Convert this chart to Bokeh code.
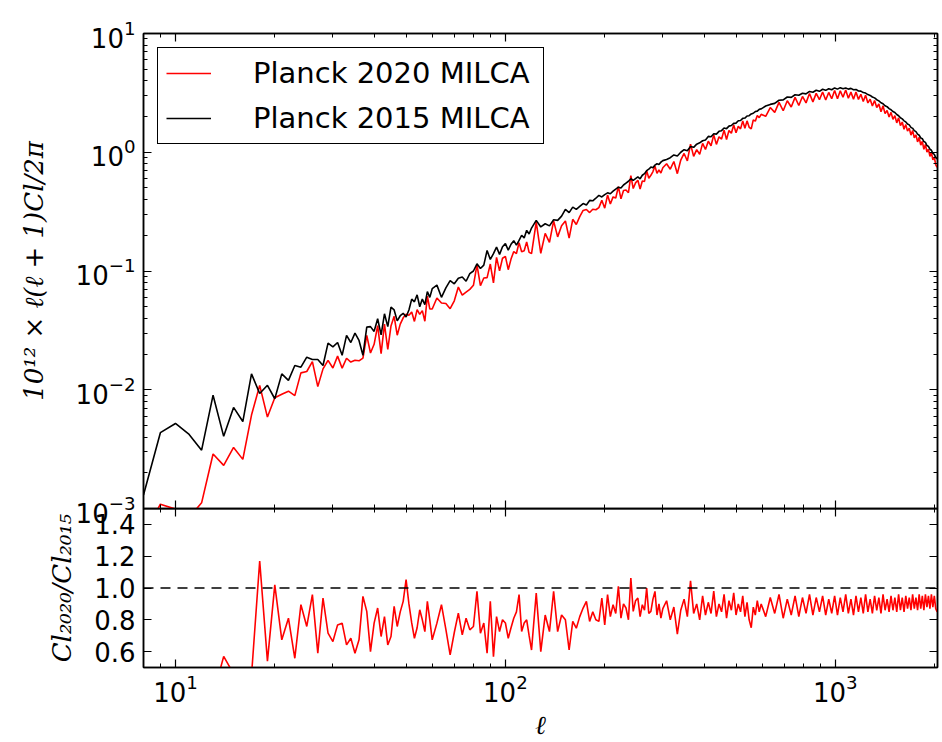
from bokeh.plotting import figure
from bokeh.models import (LogAxis, LinearAxis, FixedTicker, LogTickFormatter,
                          NumeralTickFormatter, CustomJSTickFormatter, Range1d, Span,
                          Legend, LegendItem, ColumnDataSource)
from bokeh.layouts import column
from bokeh.embed import file_html
from bokeh.resources import INLINE

# ---------------- data ----------------
# multipole grid: every l up to 60, coarser above
ell = (list(range(8, 61)) + list(range(62, 121, 2)) + list(range(124, 301, 4))
       + list(range(308, 597, 8)) + list(range(615, 2036, 20)))

# Planck 2015 MILCA, 1e12 * l(l+1)Cl/2pi
cl2015 = [
    1.3e-3, 4.35e-3, 5.2e-3, 4.2e-3, 3.1e-3, 9.0e-3, 4.05e-3, 7.1e-3, 5.4e-3, 1.36e-2,
    9.3e-3, 1.09e-2, 8.4e-3, 1.36e-2, 1.2e-2, 1.6e-2, 1.55e-2, 1.88e-2, 1.8e-2, 1.8e-2,
    1.6e-2, 2.47e-2, 2.3e-2, 2.5e-2, 1.95e-2, 2.87e-2, 2.5e-2, 3.0e-2, 2.6e-2, 1.95e-2,
    3.37e-2, 3.4e-2, 3.1e-2, 3.96e-2, 2.9e-2, 4.36e-2, 3.4e-2, 4.96e-2, 4.7e-2, 3.8e-2,
    4.2e-2, 4.4e-2, 4.1e-2, 4.7e-2, 5.8e-2, 5.5e-2, 6.3e-2, 5.0e-2, 5.8e-2, 5.2e-2,
    6.7e-2, 6.0e-2, 7.1e-2,
    0.076, 0.06, 0.072, 0.083, 0.078, 0.087, 0.089, 0.082, 0.095, 0.1,
    0.115, 0.105, 0.112, 0.149, 0.125, 0.14, 0.159, 0.138, 0.16, 0.17,
    0.15, 0.168, 0.18, 0.165, 0.181, 0.2, 0.19, 0.22, 0.205, 0.23,
    0.267, 0.235, 0.25, 0.24, 0.27, 0.267, 0.29, 0.33, 0.31, 0.345,
    0.33, 0.35, 0.37, 0.36, 0.393, 0.39, 0.41, 0.433, 0.42, 0.44,
    0.455, 0.447, 0.47, 0.49, 0.508, 0.5, 0.53, 0.55, 0.57, 0.598,
    0.58, 0.6, 0.62, 0.598, 0.64, 0.66, 0.7, 0.72, 0.75, 0.74,
    0.78, 0.8, 0.79, 0.826, 0.85,
    0.87, 0.9, 0.95, 0.93, 1.0, 1.05, 1.03, 1.12, 1.1, 1.17,
    1.2, 1.25, 1.27, 1.36, 1.35, 1.43, 1.42, 1.5, 1.52, 1.6,
    1.58, 1.66, 1.68, 1.75, 1.76, 1.84, 1.85, 1.93, 1.94, 2.02,
    2.03, 2.1, 2.13, 2.2, 2.22, 2.3, 2.32,
    2.45, 2.53, 2.58, 2.74, 2.76, 2.92, 2.9, 3.05, 3.02, 3.14,
    3.1, 3.25, 3.2, 3.33, 3.26, 3.39, 3.32, 3.43, 3.36, 3.48,
    3.4, 3.5, 3.42, 3.48, 3.4, 3.45, 3.36, 3.38, 3.28, 3.27,
    3.18, 3.15, 3.06, 3.01, 2.92, 2.87, 2.77, 2.71, 2.61, 2.56,
    2.46, 2.42, 2.33, 2.28, 2.2, 2.16, 2.08, 2.03, 1.95, 1.91,
    1.84, 1.8, 1.73, 1.7, 1.62, 1.59, 1.52, 1.49, 1.42, 1.39,
    1.32, 1.3, 1.23, 1.21, 1.14, 1.12, 1.06, 1.04, 0.98, 0.96,
    0.9, 0.88,
]

# Cl_2020 / Cl_2015
ratio = [
    0.45, 0.25, 0.19, 0.2, 0.36, 0.32, 0.57, 0.46, 0.48, 0.45,
    1.17, 0.54, 1.02, 0.674, 0.81, 0.558, 0.895, 0.758, 0.958, 0.59,
    0.937, 0.716, 0.663, 0.768, 0.779, 0.642, 0.684, 0.59, 0.674, 0.947,
    0.853, 0.6, 0.779, 0.874, 0.695, 0.82, 0.642, 0.695, 0.884, 0.758,
    0.85, 0.916, 1.053, 0.9, 0.78, 0.684, 0.75, 0.863, 0.8, 0.726,
    0.916, 0.8, 0.674,
    0.779, 0.895, 0.74, 0.58, 0.72, 0.842, 0.705, 0.81, 0.737, 0.758,
    0.979, 0.716, 0.78, 0.59, 0.916, 0.568, 0.82, 0.726, 0.8, 0.78,
    0.684, 0.75, 0.81, 0.85, 0.958, 0.726, 0.78, 0.8, 0.7, 0.61,
    0.968, 0.6, 0.83, 0.726, 0.979, 0.726, 0.83, 0.8, 0.61, 0.79,
    0.747, 0.82, 0.874, 0.916, 0.79, 0.85, 0.8, 0.79, 0.937, 0.768,
    0.958, 0.82, 0.895, 0.84, 1.01, 0.81, 0.9, 0.874, 0.8, 1.063,
    0.853, 0.92, 0.937, 0.82, 0.895, 0.86, 1.0, 0.84, 0.853, 0.93,
    0.979, 0.83, 0.9, 0.81, 0.87,
    0.92, 0.8, 0.88, 0.71, 0.86, 0.93, 0.82, 1.045, 0.84, 0.9,
    0.8, 0.95, 0.83, 0.91, 0.84, 0.98, 0.82, 0.9, 0.85, 0.96,
    0.81, 0.92, 0.86, 0.97, 0.83, 0.9, 0.85, 0.95, 0.82, 0.91,
    0.8, 0.75, 0.88, 0.83, 0.92, 0.85, 0.9,
    0.82, 0.94, 0.84, 0.96, 0.81, 0.93, 0.83, 0.95, 0.82, 0.94,
    0.84, 0.96, 0.83, 0.94, 0.85, 0.95, 0.83, 0.93, 0.84, 0.95,
    0.83, 0.94, 0.85, 0.96, 0.84, 0.93, 0.83, 0.95, 0.85, 0.94,
    0.84, 0.96, 0.85, 0.93, 0.84, 0.95, 0.86, 0.94, 0.84, 0.96,
    0.86, 0.93, 0.85, 0.95, 0.86, 0.94, 0.85, 0.96, 0.86, 0.94,
    0.85, 0.95, 0.87, 0.94, 0.86, 0.96, 0.87, 0.94, 0.86, 0.96,
    0.87, 0.95, 0.86, 0.96, 0.88, 0.95, 0.87, 0.96, 0.88, 0.95,
    0.87, 0.85,
]

assert len(ell) == len(cl2015) == len(ratio)
cl2020 = [c * r for c, r in zip(cl2015, ratio)]

series_labels = ["Planck 2020 MILCA", "Planck 2015 MILCA"]
x_major = [10, 100, 1000]
x_minor = [8, 9] + [k * 10 for k in range(2, 10)] + [k * 100 for k in range(2, 10)] + [2000]
y_major_top = [1e-3, 1e-2, 1e-1, 1, 10]
y_minor_top = [k * 10.0 ** e for e in (-3, -2, -1, 0) for k in range(2, 10)]
ratio_ticks = [0.6, 0.8, 1.0, 1.2, 1.4]

src = ColumnDataSource(dict(ell=ell, cl2015=cl2015, cl2020=cl2020, ratio=ratio))

# ---------------- layout ----------------
W = 942
LEFT, RIGHT = 143, 5
OVERLAP = 22          # room below the top frame so its lowest tick label is not cut
x_range = Range1d(8, 2040)


def style_axis(ax, show_labels, font_size="26px"):
    ax.axis_line_color = "black"
    ax.axis_line_width = 1.5
    ax.major_tick_line_color = "black"
    ax.major_tick_line_width = 1.2
    ax.minor_tick_line_color = "black"
    ax.minor_tick_line_width = 1.0
    ax.major_tick_in = 8
    ax.major_tick_out = 0
    ax.minor_tick_in = 4
    ax.minor_tick_out = 0
    if show_labels:
        ax.major_label_text_font = "DejaVu Sans"
        ax.major_label_text_font_size = font_size
        ax.major_label_text_color = "black"
    else:
        ax.major_label_text_font_size = "1px"
        ax.major_label_text_alpha = 0
        ax.major_label_standoff = 0


def blank_formatter():
    return CustomJSTickFormatter(code="return ''")


def x_axis(show):
    if show:
        ax = LogAxis(ticker=FixedTicker(ticks=x_major, minor_ticks=x_minor),
                     formatter=LogTickFormatter())
    else:
        ax = LogAxis(ticker=FixedTicker(ticks=x_major, minor_ticks=x_minor),
                     formatter=blank_formatter())
    style_axis(ax, show)
    return ax


def style_axis_label(ax, text, standoff):
    ax.axis_label = text
    ax.axis_label_text_font = "DejaVu Serif"
    ax.axis_label_text_font_style = "italic"
    ax.axis_label_text_font_size = "26px"
    ax.axis_label_text_color = "black"
    ax.axis_label_standoff = standoff


# top panel
top = figure(width=W, height=508 + OVERLAP, x_axis_type="log", y_axis_type="log",
             x_range=x_range, y_range=Range1d(1e-3, 10),
             x_axis_location=None, y_axis_location=None,
             output_backend="svg", toolbar_location=None,
             min_border_left=LEFT, min_border_right=RIGHT,
             min_border_top=33, min_border_bottom=OVERLAP)
top.grid.grid_line_color = None
top.outline_line_color = "black"
top.outline_line_width = 1.5

yl = LogAxis(ticker=FixedTicker(ticks=y_major_top, minor_ticks=y_minor_top),
             formatter=LogTickFormatter())
style_axis(yl, True)
yl.major_label_standoff = 8
style_axis_label(yl, "10¹² × ℓ(ℓ + 1)Cl/2π", 24)
top.add_layout(yl, "left")

yr = LogAxis(ticker=FixedTicker(ticks=y_major_top, minor_ticks=y_minor_top),
             formatter=blank_formatter())
style_axis(yr, False)
top.add_layout(yr, "right")
top.add_layout(x_axis(False), "below")
top.add_layout(x_axis(False), "above")

r_red = top.line("ell", "cl2020", source=src, line_color="#ff0000", line_width=1.6)
r_blk = top.line("ell", "cl2015", source=src, line_color="#000000", line_width=1.6)

legend = Legend(items=[LegendItem(label=series_labels[0], renderers=[r_red]),
                       LegendItem(label=series_labels[1], renderers=[r_blk])],
                location="top_left", margin=14, padding=8, spacing=11,
                glyph_width=45, glyph_height=30, label_height=30, label_width=282,
                label_standoff=42, label_text_font="DejaVu Sans",
                label_text_font_size="29px", label_text_color="black",
                border_line_color="black", border_line_alpha=1.0,
                border_line_width=1.5, background_fill_color="white",
                background_fill_alpha=1.0)
top.add_layout(legend)

# bottom panel (pulled up so that it starts right at the top frame's lower edge)
bot = figure(width=W, height=742 - 508, x_axis_type="log",
             x_range=x_range, y_range=Range1d(0.5, 1.5),
             x_axis_location=None, y_axis_location=None,
             output_backend="svg", toolbar_location=None,
             min_border_left=LEFT, min_border_right=RIGHT,
             min_border_top=0, min_border_bottom=74,
             margin=(-OVERLAP, 0, 0, 0))
bot.grid.grid_line_color = None
bot.outline_line_color = "black"
bot.outline_line_width = 1.5
bot.border_fill_alpha = 0
bot.background_fill_alpha = 0

bl = LinearAxis(ticker=FixedTicker(ticks=ratio_ticks, minor_ticks=[]),
                formatter=NumeralTickFormatter(format="0.0"))
style_axis(bl, True)
bl.major_label_standoff = 8
style_axis_label(bl, "Cl₂₀₂₀/Cl₂₀₁₅", 14)
bot.add_layout(bl, "left")

br = LinearAxis(ticker=FixedTicker(ticks=ratio_ticks, minor_ticks=[]),
                formatter=blank_formatter())
style_axis(br, False)
bot.add_layout(br, "right")

bx = x_axis(True)
bx.major_label_standoff = 6
style_axis_label(bx, "ℓ", 5)
bot.add_layout(bx, "below")
bot.add_layout(x_axis(False), "above")

bot.add_layout(Span(location=1.0, dimension="width", line_color="#000000",
                    line_width=1.5, line_dash="10 7"))
bot.line("ell", "ratio", source=src, line_color="#ff0000", line_width=1.6)

layout = column(top, bot, spacing=0)

open("out.html", "w").write(file_html(layout, INLINE))
